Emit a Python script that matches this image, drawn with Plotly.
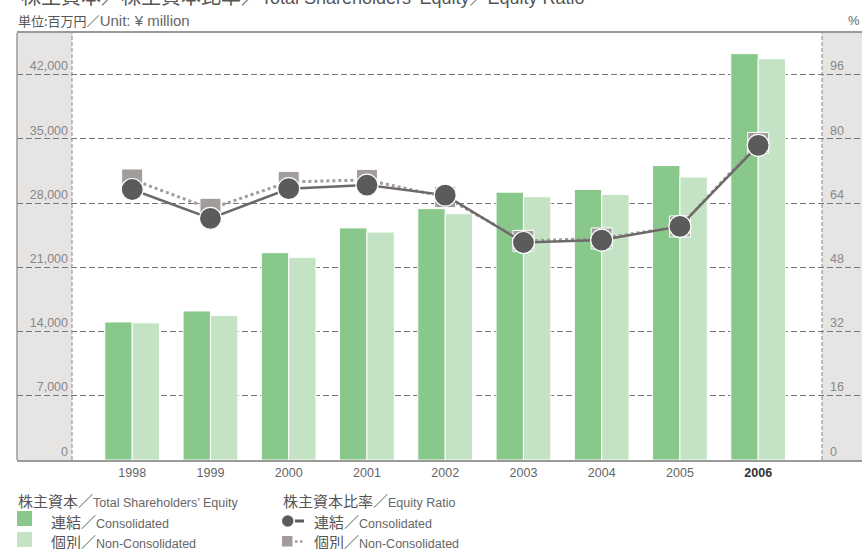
import plotly.graph_objects as go

# ---------------- data ----------------
years = ["1998", "1999", "2000", "2001", "2002", "2003", "2004", "2005", "2006"]
equity_consolidated = [15050, 16250, 22600, 25300, 27400, 29200, 29500, 32100, 44300]
equity_non_consolidated = [14950, 15750, 22100, 24850, 26850, 28700, 28950, 30850, 43750]
ratio_consolidated = [67.4, 60.2, 67.6, 68.5, 66.0, 54.2, 54.8, 58.2, 78.4]
ratio_non_consolidated = [69.9, 62.6, 69.3, 69.8, 65.5, 54.6, 55.2, 58.2, 79.0]
left_ticks = [0, 7000, 14000, 21000, 28000, 35000, 42000]
right_ticks = [0, 16, 32, 48, 64, 80, 96]

# ---------------- style ----------------
W, H = 862, 549
L, R, T, B = 17, 0, 33, 89          # plot area margins (px)
PW, PH = W - L - R, H - T - B
GREEN = "#88c98b"
LIGHT_GREEN = "#c4e3c4"
PANEL = "#e6e5e4"
DARK = "#5b5b5b"
DARK_LINE = "#6d6969"
TAUPE = "#a29d9b"
GRID = "#767676"
BORDER = "#9a9a9a"
FONT = "Liberation Sans, Arial, Noto Sans CJK JP, sans-serif"
JFONT = "Noto Sans CJK JP, Liberation Sans, sans-serif"

def px(xp):
    return (xp - L) / PW

def py(yp):
    return (T + PH - yp) / PH

xi = list(range(len(years)))
step = 78.25
c0 = 132.2
x_range = [(L - c0) / step, (W - R - c0) / step]
y_max = 46550
y2_max = y_max * 96 / 42000

fig = go.Figure()
fig.add_trace(go.Bar(x=xi, y=equity_consolidated, marker=dict(color=GREEN, line=dict(color="white", width=1)),
                     showlegend=False, hoverinfo="skip"))
fig.add_trace(go.Bar(x=xi, y=equity_non_consolidated, marker=dict(color=LIGHT_GREEN, line=dict(color="white", width=1)),
                     showlegend=False, hoverinfo="skip"))
fig.add_trace(go.Scatter(x=xi, y=ratio_non_consolidated, yaxis="y2", mode="lines+markers",
                         line=dict(color=TAUPE, width=3, dash="3px,3px"),
                         marker=dict(symbol="square", size=21, color=TAUPE, line=dict(color="white", width=1)),
                         showlegend=False, hoverinfo="skip"))
fig.add_trace(go.Scatter(x=xi, y=ratio_consolidated, yaxis="y2", mode="lines+markers",
                         line=dict(color=DARK_LINE, width=2.5),
                         marker=dict(symbol="circle", size=22, color=DARK, line=dict(color="white", width=1.2)),
                         showlegend=False, hoverinfo="skip"))

ticktext = [y if y != "2006" else "<b><span style='color:#333333'>2006</span></b>" for y in years]

shapes = [
    # grey side panels
    dict(type="rect", xref="paper", yref="paper", x0=0, x1=px(72), y0=0, y1=1,
         fillcolor=PANEL, line=dict(width=0), layer="below"),
    dict(type="rect", xref="paper", yref="paper", x0=px(822), x1=1, y0=0, y1=1,
         fillcolor=PANEL, line=dict(width=0), layer="below"),
    # dashed panel separators
    dict(type="line", xref="paper", yref="paper", x0=px(72), x1=px(72), y0=0, y1=1,
         line=dict(color="#8a8a8a", width=1, dash="4px,2px")),
    dict(type="line", xref="paper", yref="paper", x0=px(822), x1=px(822), y0=0, y1=1,
         line=dict(color="#8a8a8a", width=1, dash="4px,2px")),
    # left border
    dict(type="line", xref="paper", yref="paper", x0=0, x1=0, y0=0, y1=1,
         line=dict(color=BORDER, width=1.5)),
    # legend icons
    dict(type="rect", xref="paper", yref="paper", x0=px(17), x1=px(32), y0=py(526), y1=py(511),
         fillcolor=GREEN, line=dict(width=0)),
    dict(type="rect", xref="paper", yref="paper", x0=px(17), x1=px(32), y0=py(547), y1=py(532),
         fillcolor=LIGHT_GREEN, line=dict(width=0)),
    dict(type="circle", xref="paper", yref="paper", x0=px(282), x1=px(293.5), y0=py(526.8), y1=py(515.3),
         fillcolor=DARK, line=dict(width=0)),
    dict(type="line", xref="paper", yref="paper", x0=px(295), x1=px(304), y0=py(521), y1=py(521),
         line=dict(color=DARK, width=3)),
    dict(type="rect", xref="paper", yref="paper", x0=px(282), x1=px(292.5), y0=py(546.5), y1=py(536),
         fillcolor=TAUPE, line=dict(width=0)),
    dict(type="line", xref="paper", yref="paper", x0=px(295), x1=px(304), y0=py(541.5), y1=py(541.5),
         line=dict(color=TAUPE, width=2.5, dash="2.5px,2.5px")),
]

def jp_en(jp, en, jsize, esize, jcolor="#555555", ecolor="#666666"):
    return (f"<span style='font-family:{JFONT};font-size:{jsize}px;color:{jcolor}'>{jp}／</span>"
            f"<span style='font-size:{esize}px;color:{ecolor}'>{en}</span>")

annotations = [
    dict(text=("<span style='font-family:" + JFONT + ";font-size:20px'>株主資本／株主資本比率／</span>"
               "<span style='font-size:18px'>Total Shareholders’ Equity／Equity Ratio</span>"),
         x=px(19), y=py(11.5), xanchor="left", yanchor="bottom"),
    dict(text=jp_en("単位:百万円", "Unit: ¥ million", 13, 15), x=px(16), y=py(21), xanchor="left", yanchor="middle"),
    dict(text="<span style='color:#666666'>%</span>", x=px(862), y=py(21), xanchor="right", yanchor="middle"),
    dict(text=jp_en("株主資本", "Total Shareholders’ Equity", 15, 12.5), x=px(16), y=py(500), xanchor="left", yanchor="middle"),
    dict(text=jp_en("連結", "Consolidated", 15, 12.5), x=px(49), y=py(521), xanchor="left", yanchor="middle"),
    dict(text=jp_en("個別", "Non-Consolidated", 15, 12.5), x=px(49), y=py(541), xanchor="left", yanchor="middle"),
    dict(text=jp_en("株主資本比率", "Equity Ratio", 15, 12.5), x=px(281), y=py(500), xanchor="left", yanchor="middle"),
    dict(text=jp_en("連結", "Consolidated", 15, 12.5), x=px(312), y=py(521), xanchor="left", yanchor="middle"),
    dict(text=jp_en("個別", "Non-Consolidated", 15, 12.5), x=px(312), y=py(541), xanchor="left", yanchor="middle"),
]
for a in annotations:
    a.update(xref="paper", yref="paper", showarrow=False, font=dict(family=FONT, size=13, color="#555555"))

fig.update_layout(
    width=W, height=H,
    margin=dict(l=L, r=R, t=T, b=B, autoexpand=False),
    paper_bgcolor="white", plot_bgcolor="rgba(0,0,0,0)",
    barmode="group", bargap=0.3, bargroupgap=0.0,
    font=dict(family=FONT, color="#666666"),
    xaxis=dict(range=x_range, tickmode="array", tickvals=xi, ticktext=ticktext,
               showgrid=False, zeroline=False, showline=True, mirror=True,
               linecolor=BORDER, linewidth=1.5, ticks="",
               tickfont=dict(size=12.5, color="#666666"), ticklabelstandoff=0),
    yaxis=dict(range=[0, y_max], tickmode="array", tickvals=left_ticks, tickformat=",",
               anchor="free", position=px(72), side="left", automargin=False,
               showgrid=True, gridcolor=GRID, gridwidth=1, griddash="6px,3px",
               zeroline=False, showline=False, ticks="",
               ticklabelposition="outside top", ticklabelstandoff=4,
               tickfont=dict(size=12.5, color="#888888")),
    yaxis2=dict(range=[0, y2_max], tickmode="array", tickvals=right_ticks,
                overlaying="y", anchor="free", position=px(822), side="right", automargin=False,
                showgrid=False, zeroline=False, showline=False, ticks="",
                ticklabelposition="outside top", ticklabelstandoff=7,
                tickfont=dict(size=12.5, color="#888888")),
    shapes=shapes,
    annotations=annotations,
)

fig.write_html("out.html", config={"displayModeBar": False},
               post_script="document.body.style.margin='0px';document.body.style.overflow='hidden';")
